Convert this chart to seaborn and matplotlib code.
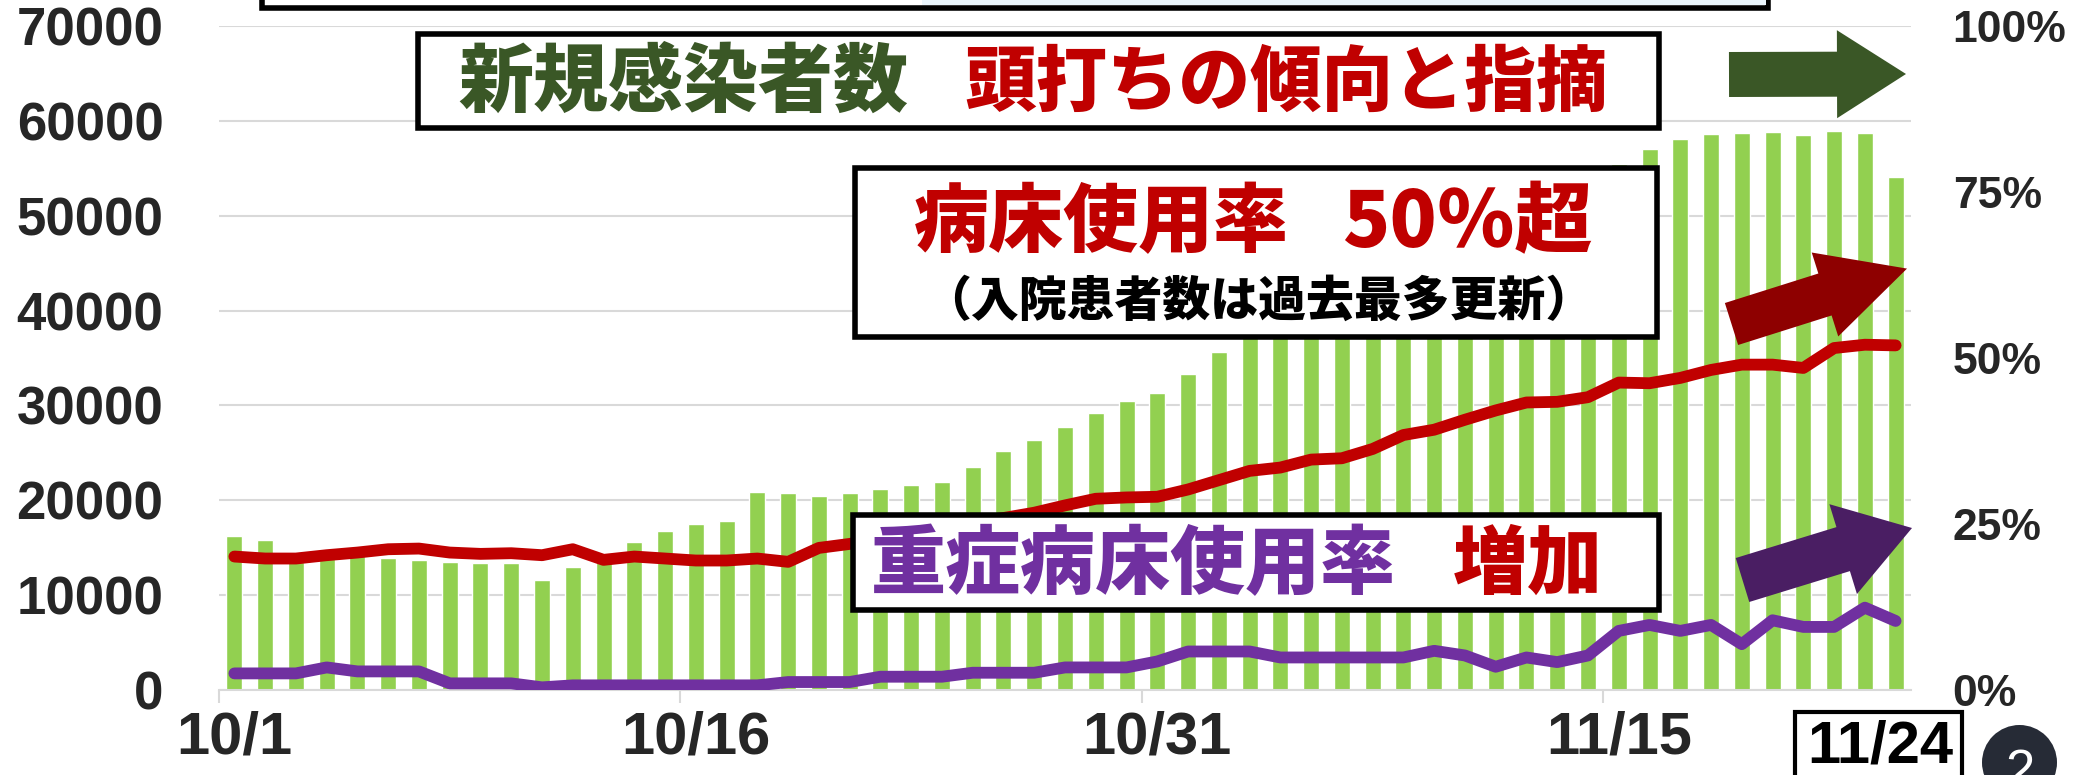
import matplotlib
matplotlib.use("Agg")
import matplotlib.pyplot as plt
import matplotlib.patches as mpatches
import seaborn as sns
import numpy as np
import pandas as pd

sns.set_theme(style="white")
plt.rcParams["font.family"] = ["Liberation Sans", "Noto Sans CJK JP", "DejaVu Sans"]

# --- data ---
dates = ["10/1", "10/2", "10/3", "10/4", "10/5", "10/6", "10/7", "10/8", "10/9", "10/10",
         "10/11", "10/12", "10/13", "10/14", "10/15", "10/16", "10/17", "10/18", "10/19", "10/20",
         "10/21", "10/22", "10/23", "10/24", "10/25", "10/26", "10/27", "10/28", "10/29", "10/30",
         "10/31", "11/1", "11/2", "11/3", "11/4", "11/5", "11/6", "11/7", "11/8", "11/9",
         "11/10", "11/11", "11/12", "11/13", "11/14", "11/15", "11/16", "11/17", "11/18", "11/19",
         "11/20", "11/21", "11/22", "11/23", "11/24"]

# new infections (bars, left axis)
cases = [16260, 15840, 13500, 14000, 14200, 13900, 13730, 13450, 13350, 13380,
         11590, 12960, 13900, 15560, 16790, 17490, 17800, 20830, 20720, 20480,
         20720, 21150, 21570, 21920, 23500, 25150, 26380, 27750, 29230, 30420,
         31260, 33330, 35650, 37500, 39000, 40500, 42000, 43500, 45000, 46000,
         47500, 49000, 50500, 52000, 53500, 55500, 57050, 58130, 58660, 58700,
         58780, 58460, 58950, 58740, 54100]

# bed occupancy rate (red line, right axis)
bed_rate = [0.201, 0.198, 0.198, 0.203, 0.207, 0.212, 0.213, 0.207, 0.205, 0.206,
            0.203, 0.212, 0.196, 0.201, 0.198, 0.195, 0.195, 0.198, 0.193, 0.214,
            0.220, 0.228, 0.236, 0.244, 0.252, 0.259, 0.267, 0.278, 0.288, 0.290,
            0.291, 0.302, 0.316, 0.330, 0.335, 0.347, 0.349, 0.363, 0.384, 0.392,
            0.407, 0.421, 0.433, 0.434, 0.441, 0.463, 0.462, 0.470, 0.482, 0.490,
            0.490, 0.485, 0.515, 0.520, 0.519]

# severe-case bed occupancy rate (purple line, right axis)
severe_rate = [0.025, 0.025, 0.025, 0.034, 0.028, 0.028, 0.028, 0.010, 0.010, 0.010,
               0.004, 0.007, 0.007, 0.007, 0.007, 0.007, 0.007, 0.007, 0.012, 0.012,
               0.012, 0.020, 0.020, 0.020, 0.026, 0.026, 0.026, 0.034, 0.034, 0.034,
               0.043, 0.058, 0.058, 0.058, 0.049, 0.049, 0.049, 0.049, 0.049, 0.059,
               0.052, 0.035, 0.049, 0.042, 0.052, 0.089, 0.098, 0.089, 0.098, 0.069,
               0.105, 0.095, 0.095, 0.124, 0.104]

xtick_pos = [0, 15, 30, 45]
xtick_labels = ["10/1", "10/16", "10/31", "11/15"]
last_label = "11/24"
left_ticks = [0, 10000, 20000, 30000, 40000, 50000, 60000, 70000]
right_ticks = [0, 0.25, 0.5, 0.75, 1.0]
right_labels = ["0%", "25%", "50%", "75%", "100%"]

GREEN_BAR = "#92D050"
RED = "#C00000"
PURPLE = "#7030A0"
DARK_GREEN = "#3A5726"
GRID = "#D9D9D9"
CJK = ["Noto Sans CJK JP", "DejaVu Sans"]

W, H = 2073, 775
fig = plt.figure(figsize=(W / 100, H / 100), dpi=100)
fig.patch.set_facecolor("white")
ax = fig.add_axes([219 / W, 1 - 690 / H, (1911 - 219) / W, (690 - 26) / H])

df = pd.DataFrame({"date": dates, "cases": cases})
sns.barplot(data=df, x="date", y="cases", color=GREEN_BAR, saturation=1,
            width=0.52, ax=ax)
ax.set_ylim(0, 70000)
ax.set_yticks(left_ticks)
ax.set_yticklabels([str(v) for v in left_ticks], fontsize=38, fontweight="bold")
ax.tick_params(axis="y", length=0, pad=40)
ax.yaxis.grid(True, color=GRID, linewidth=1.5)
ax.set_axisbelow(True)
for s in ["top", "left", "right"]:
    ax.spines[s].set_visible(False)
ax.spines["bottom"].set_color(GRID)
ax.spines["bottom"].set_linewidth(1.5)
ax.set_xlabel("")
ax.set_ylabel("")

ax2 = ax.twinx()
x_idx = np.arange(len(dates))
sns.lineplot(x=x_idx, y=bed_rate, ax=ax2, color=RED, linewidth=8.5,
             solid_capstyle="round", solid_joinstyle="round")
sns.lineplot(x=x_idx, y=severe_rate, ax=ax2, color=PURPLE, linewidth=8.5,
             solid_capstyle="round", solid_joinstyle="round")
ax2.set_ylim(0, 1)
ax2.set_yticks(right_ticks)
ax2.set_yticklabels(right_labels, fontsize=32, fontweight="bold")
ax2.tick_params(axis="y", length=0, pad=30)
for s in ["top", "left", "right", "bottom"]:
    ax2.spines[s].set_visible(False)
ax2.set_ylabel("")

ax.set_xlim(-0.5, len(dates) - 0.5)
ax.set_xticks(xtick_pos)
ax.set_xticklabels(xtick_labels, fontsize=43, fontweight="bold")
ax.set_xticks([p - 0.5 for p in xtick_pos], minor=True)
ax.tick_params(axis="x", which="major", length=0, pad=15)
ax.tick_params(axis="x", which="minor", length=9.5, width=1.5, color=GRID,
               bottom=True)


def fx(x):
    return x / W


def fy(y):
    return 1 - y / H


def box(x0, y0, x1, y1, lw=4, fc="white"):
    fig.add_artist(mpatches.Rectangle((fx(x0), fy(y1)), fx(x1) - fx(x0), fy(y0) - fy(y1),
                                      transform=fig.transFigure, facecolor=fc,
                                      edgecolor="black", linewidth=lw, zorder=5))


def ftext(x, y, s, **kw):
    fig.text(fx(x), fy(y), s, zorder=6, **kw)


def arrow(tail, tip, bw, hw, hl, color):
    t = np.array([tail[0], H - tail[1]], float)
    p = np.array([tip[0], H - tip[1]], float)
    d = p - t
    u = d / np.hypot(*d)
    n = np.array([-u[1], u[0]])
    base = p - u * hl
    pts = [t + n * bw / 2, base + n * bw / 2, base + n * hw / 2, p,
           base - n * hw / 2, base - n * bw / 2, t - n * bw / 2]
    pts = [(q[0] / W, q[1] / H) for q in pts]
    fig.add_artist(mpatches.Polygon(pts, closed=True, transform=fig.transFigure,
                                    facecolor=color, edgecolor="none", zorder=5))


# clipped box at the very top
box(262, -30, 1768, 8, lw=4)
fig.add_artist(mpatches.Rectangle((fx(922), fy(5)), fx(1766) - fx(922), fy(0) - fy(5),
                                  transform=fig.transFigure, facecolor="#EAF5FC",
                                  edgecolor="none", zorder=5))

# headline box
box(418, 34, 1659, 128)
ftext(458, 84, "新規感染者数", color=DARK_GREEN, fontsize=54, fontweight="black",
      family=CJK, ha="left", va="center")
ftext(964, 84, "頭打ちの傾向と指摘", color=RED, fontsize=51.5, fontweight="black",
      family=CJK, ha="left", va="center")

# bed occupancy box
box(855, 168, 1657, 337)
ftext(914, 224, "病床使用率", color=RED, fontsize=54, fontweight="black",
      family=CJK, ha="left", va="center")
ftext(1342, 224, "50％超", color=RED, fontsize=56, fontweight="black",
      family=CJK, ha="left", va="center")
ftext(1258, 301, "（入院患者数は過去最多更新）", color="black", fontsize=34.5,
      fontweight="black", family=CJK, ha="center", va="center")

# severe bed box
box(853, 515, 1659, 610)
ftext(871, 566, "重症病床使用率", color=PURPLE, fontsize=54, fontweight="black",
      family=CJK, ha="left", va="center")
ftext(1453, 566, "増加", color=RED, fontsize=54, fontweight="black",
      family=CJK, ha="left", va="center")

# arrows
arrow((1729, 74.5), (1906, 74), 45, 88, 69, DARK_GREEN)
arrow((1731.5, 324), (1907, 268.6), 44, 88, 86, "#8E0000")
arrow((1742.5, 580), (1912, 528), 46, 94, 72, "#4A1E63")

# boxed last date
box(1795, 712, 1962, 800, lw=3)
ftext(1880, 762, last_label, color="black", fontsize=43, fontweight="bold",
      ha="center", va="baseline")

# page number bubble
fig.add_artist(mpatches.Ellipse((fx(2019.5), fy(762.5)), 75 / W, 75 / H,
                                transform=fig.transFigure, facecolor="#262B36",
                                edgecolor="none", zorder=5))
ftext(2019.5, 787, "2", color="white", fontsize=38, ha="center", va="baseline")

fig.savefig("out.png", dpi=100, facecolor="white")
